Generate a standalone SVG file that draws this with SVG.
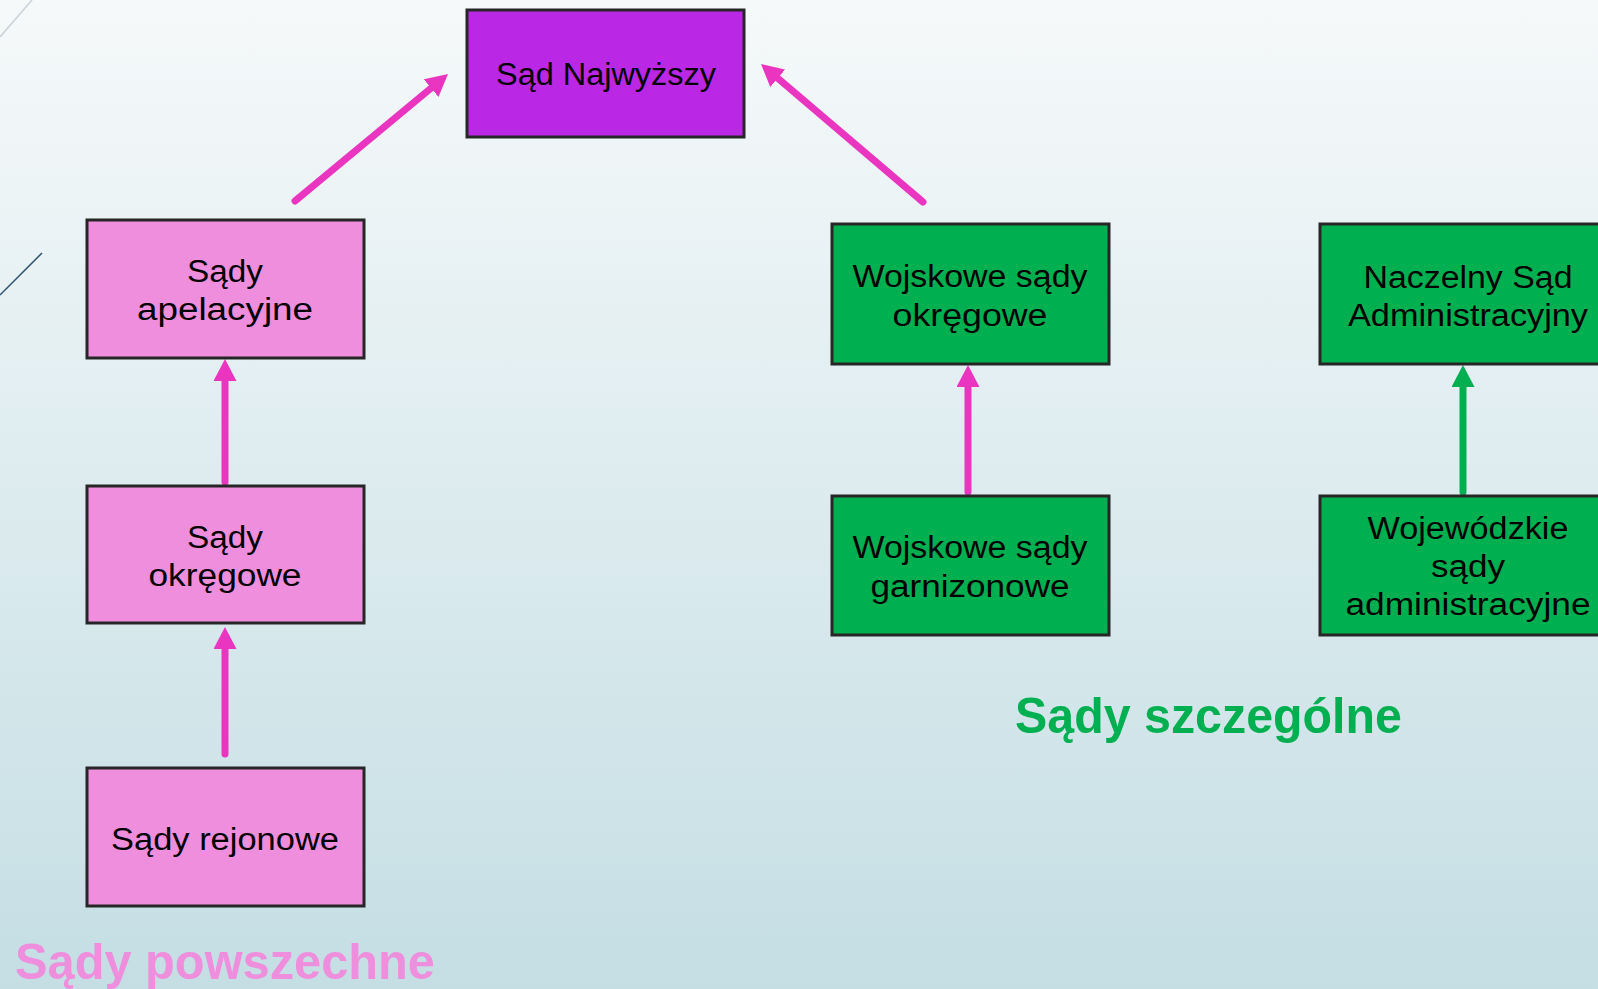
<svg xmlns="http://www.w3.org/2000/svg" width="1598" height="989" viewBox="0 0 1598 989">
<style>
.box{stroke:#262626;stroke-width:3}
.pink{fill:#EF8EDD}
.purple{fill:#BA28E6}
.green{fill:#00B050}
.t{font-family:"Liberation Sans",Arial,sans-serif;font-size:31px;fill:#000;text-anchor:middle}
.lbl{font-family:"Liberation Sans",Arial,sans-serif;font-size:50px;font-weight:bold}
.conn{stroke-width:7;stroke-linecap:round;fill:none}
</style>
<defs>
<linearGradient id="bg" x1="0" y1="0" x2="0" y2="1">
<stop offset="0" stop-color="#F6F9FA"/>
<stop offset="1" stop-color="#C4DEE4"/>
</linearGradient>
<marker id="ahp" viewBox="0 0 22 23" markerWidth="22" markerHeight="23" refX="7" refY="11.5" orient="auto" markerUnits="userSpaceOnUse">
<path d="M0,0 L22,11.5 L0,23 z" fill="#E935C0"/>
</marker>
<marker id="ahg" viewBox="0 0 22 23" markerWidth="22" markerHeight="23" refX="7" refY="11.5" orient="auto" markerUnits="userSpaceOnUse">
<path d="M0,0 L22,11.5 L0,23 z" fill="#00B050"/>
</marker>
</defs>
<rect x="0" y="0" width="1598" height="989" fill="url(#bg)"/>
<line x1="0" y1="37" x2="32" y2="0" stroke="#C9D2D8" stroke-width="1.5"/>
<line x1="0" y1="295" x2="42" y2="253" stroke="#2E5270" stroke-width="1.5"/>

<g id="connectors">
<line class="conn" x1="295" y1="201" x2="436.5" y2="83.6" stroke="#E935C0" marker-end="url(#ahp)"/>
<line class="conn" x1="923" y1="202" x2="772.4" y2="73.7" stroke="#E935C0" marker-end="url(#ahp)"/>
<line class="conn" x1="225" y1="482" x2="225" y2="374" stroke="#E935C0" marker-end="url(#ahp)"/>
<line class="conn" x1="225" y1="754" x2="225" y2="642" stroke="#E935C0" marker-end="url(#ahp)"/>
<line class="conn" x1="968" y1="492" x2="968" y2="380" stroke="#E935C0" marker-end="url(#ahp)"/>
<line class="conn" x1="1463" y1="492" x2="1463" y2="380" stroke="#00B050" marker-end="url(#ahg)"/>
</g>

<g id="sad-najwyzszy">
<rect class="box purple" x="467" y="10" width="277" height="127"/>
<text class="t" x="606" y="85" textLength="220" lengthAdjust="spacingAndGlyphs">Sąd Najwyższy</text>
</g>
<g id="sady-apelacyjne">
<rect class="box pink" x="87" y="220" width="277" height="138"/>
<text class="t" x="225" y="282" textLength="76" lengthAdjust="spacingAndGlyphs">Sądy</text>
<text class="t" x="225" y="320" textLength="176" lengthAdjust="spacingAndGlyphs">apelacyjne</text>
</g>
<g id="sady-okregowe">
<rect class="box pink" x="87" y="486" width="277" height="137"/>
<text class="t" x="225" y="548" textLength="76" lengthAdjust="spacingAndGlyphs">Sądy</text>
<text class="t" x="225" y="586" textLength="153" lengthAdjust="spacingAndGlyphs">okręgowe</text>
</g>
<g id="sady-rejonowe">
<rect class="box pink" x="87" y="768" width="277" height="138"/>
<text class="t" x="225" y="850" textLength="228" lengthAdjust="spacingAndGlyphs">Sądy rejonowe</text>
</g>
<g id="wojskowe-okregowe">
<rect class="box green" x="832" y="224" width="277" height="140"/>
<text class="t" x="970" y="287" textLength="235" lengthAdjust="spacingAndGlyphs">Wojskowe sądy</text>
<text class="t" x="970" y="326" textLength="155" lengthAdjust="spacingAndGlyphs">okręgowe</text>
</g>
<g id="wojskowe-garnizonowe">
<rect class="box green" x="832" y="496" width="277" height="139"/>
<text class="t" x="970" y="558" textLength="235" lengthAdjust="spacingAndGlyphs">Wojskowe sądy</text>
<text class="t" x="970" y="597" textLength="199" lengthAdjust="spacingAndGlyphs">garnizonowe</text>
</g>
<g id="nsa">
<rect class="box green" x="1320" y="224" width="296" height="140"/>
<text class="t" x="1468" y="288" textLength="209" lengthAdjust="spacingAndGlyphs">Naczelny Sąd</text>
<text class="t" x="1468" y="326" textLength="240" lengthAdjust="spacingAndGlyphs">Administracyjny</text>
</g>
<g id="wsa">
<rect class="box green" x="1320" y="496" width="296" height="139"/>
<text class="t" x="1468" y="539" textLength="201" lengthAdjust="spacingAndGlyphs">Wojewódzkie</text>
<text class="t" x="1468" y="577" textLength="74" lengthAdjust="spacingAndGlyphs">sądy</text>
<text class="t" x="1468" y="615" textLength="245" lengthAdjust="spacingAndGlyphs">administracyjne</text>
</g>

<text class="lbl" x="1015" y="733" fill="#00B050" textLength="387" lengthAdjust="spacingAndGlyphs">Sądy szczególne</text>
<text class="lbl" x="15" y="979" fill="#EF8EDD" textLength="420" lengthAdjust="spacingAndGlyphs">Sądy powszechne</text>
</svg>
